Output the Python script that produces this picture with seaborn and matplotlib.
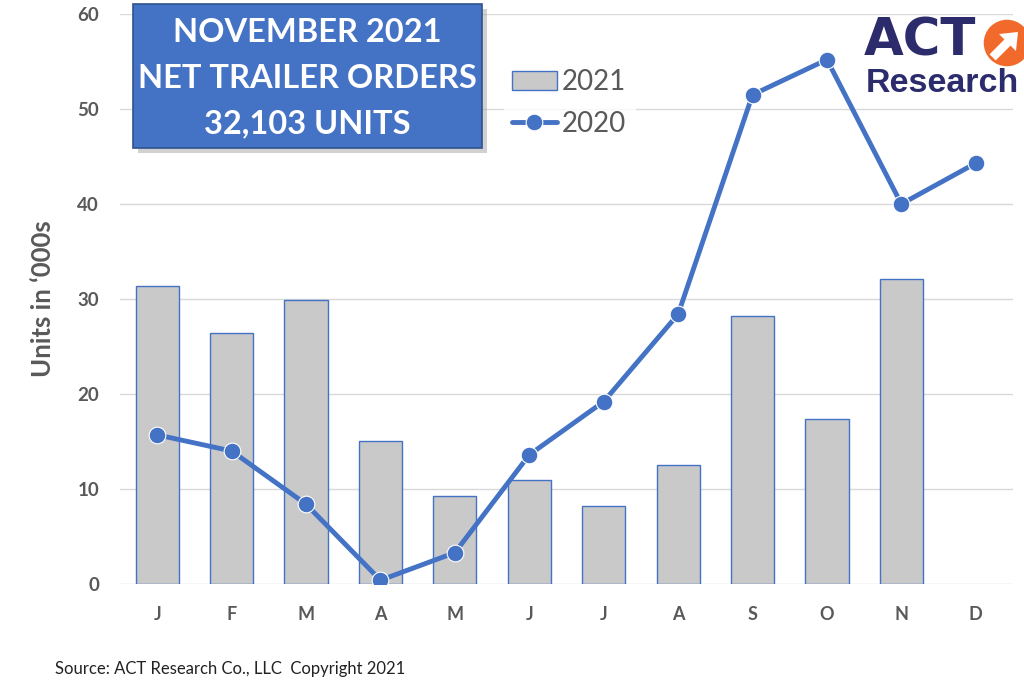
import matplotlib
matplotlib.use("Agg")
import matplotlib.pyplot as plt
from matplotlib.patches import Patch, Rectangle, Circle, FancyArrow
from matplotlib.lines import Line2D
import seaborn as sns
import numpy as np

# data (thousands of units)
months = ["Jan", "Feb", "Mar", "Apr", "May", "Jun", "Jul", "Aug", "Sep", "Oct", "Nov", "Dec"]
month_labels = ["J", "F", "M", "A", "M", "J", "J", "A", "S", "O", "N", "D"]
orders_2021 = [31.4, 26.4, 29.9, 15.1, 9.3, 10.9, 8.2, 12.5, 28.2, 17.4, 32.1]
orders_2020 = [15.7, 14.0, 8.4, 0.4, 3.3, 13.6, 19.2, 28.4, 51.5, 55.2, 40.0, 44.3]

BLUE = "#4472C4"
GREY_BAR = "#C9C9C9"
TXT = "#595959"
NAVY = "#2C2C6C"
ORANGE = "#F26A2B"

sns.set_theme(style="white")
plt.rcParams["font.family"] = ["Lato", "DejaVu Sans"]

fig = plt.figure(figsize=(10.24, 6.94), dpi=100)
ax = fig.add_axes([120 / 1024, 1 - 584 / 694, 893 / 1024, 570 / 694])

sns.barplot(x=months[:len(orders_2021)], y=orders_2021, order=months, color=GREY_BAR,
            saturation=1, width=0.58, edgecolor=BLUE, linewidth=1.0, ax=ax, zorder=2)
sns.pointplot(x=months, y=orders_2020, order=months, color=BLUE, errorbar=None,
              markers="o", linestyles="-", ax=ax, zorder=4,
              markersize=12, markeredgecolor="white", markeredgewidth=0.8, linewidth=3.5)

ax.set_ylim(0, 60)
ax.set_xlim(-0.5, 11.5)
ax.set_yticks(np.arange(0, 61, 10))
ax.yaxis.grid(True, color="#D9D9D9", linewidth=1.0, zorder=0)
ax.set_axisbelow(True)
for s in ax.spines.values():
    s.set_visible(False)
ax.set_xticks(range(12))
ax.set_xticklabels(month_labels)
ax.tick_params(axis="x", length=0, pad=16, labelsize=13, labelcolor=TXT)
ax.tick_params(axis="y", length=0, pad=15, labelsize=13.5, labelcolor=TXT)
for lab in ax.get_xticklabels() + ax.get_yticklabels():
    lab.set_fontweight("bold")
ax.set_xlabel("")
ax.set_ylabel("Units in \u2018000s", fontsize=18.5, fontweight="bold", color=TXT, labelpad=16)

# legend
handles = [Patch(facecolor=GREY_BAR, edgecolor=BLUE, linewidth=1.0),
           Line2D([], [], color=BLUE, lw=3.5, marker="o", markersize=12,
                  markeredgecolor="white", markeredgewidth=0.8)]
leg = fig.legend(handles, ["2021", "2020"], loc="upper left",
                 bbox_to_anchor=(490 / 1024, 1 - 47 / 694), frameon=True,
                 fontsize=20, handlelength=1.6, handletextpad=0.2, labelspacing=0.55,
                 borderpad=0.3, fancybox=False)
leg.get_frame().set_facecolor("white")
leg.get_frame().set_edgecolor("white")
for t in leg.get_texts():
    t.set_color(TXT)

# title box with shadow
bx, by, bw, bh = 133, 4, 349, 144
fig.patches.append(Rectangle(((bx + 5) / 1024, 1 - (by + bh + 5) / 694), bw / 1024, bh / 694,
                             transform=fig.transFigure, facecolor="#9A9A9A", alpha=0.45,
                             edgecolor="none", zorder=5))
fig.patches.append(Rectangle((bx / 1024, 1 - (by + bh) / 694), bw / 1024, bh / 694,
                             transform=fig.transFigure, facecolor=BLUE, edgecolor="#2F528F",
                             linewidth=1.2, zorder=6))
title_lines = ["NOVEMBER 2021", "NET TRAILER ORDERS", "32,103 UNITS"]
for i, line in enumerate(title_lines):
    fig.text((bx + bw / 2) / 1024, 1 - (32 + 46 * i) / 694, line, ha="center", va="center",
             color="white", fontsize=23.5, fontweight="bold", zorder=7)

# ACT Research logo
fig.text(864 / 1024, 1 - 42 / 694, "ACT", ha="left", va="center", color=NAVY,
         fontsize=37, fontweight="bold", family=["DejaVu Sans"])
fig.text(866 / 1024, 1 - 83 / 694, "Research", ha="left", va="center", color=NAVY,
         fontsize=24.5, fontweight="bold", family=["Liberation Sans", "DejaVu Sans"])
circ_ax = fig.add_axes([983 / 1024, 1 - 67 / 694, 48 / 1024, 48 / 694])
circ_ax.set_xlim(-1, 1)
circ_ax.set_ylim(-1, 1)
circ_ax.axis("off")
circ_ax.add_patch(Circle((0, 0), 0.97, facecolor=ORANGE, edgecolor="none"))
circ_ax.add_patch(FancyArrow(-0.6, -0.6, 0.62, 0.62, width=0.36, head_width=1.0,
                             head_length=0.62, facecolor="white", edgecolor="none"))

fig.text(55 / 1024, 1 - 669 / 694, "Source: ACT Research Co., LLC  Copyright 2021",
         ha="left", va="center", fontsize=12, color="#222222")

fig.savefig("out.png", dpi=100)
